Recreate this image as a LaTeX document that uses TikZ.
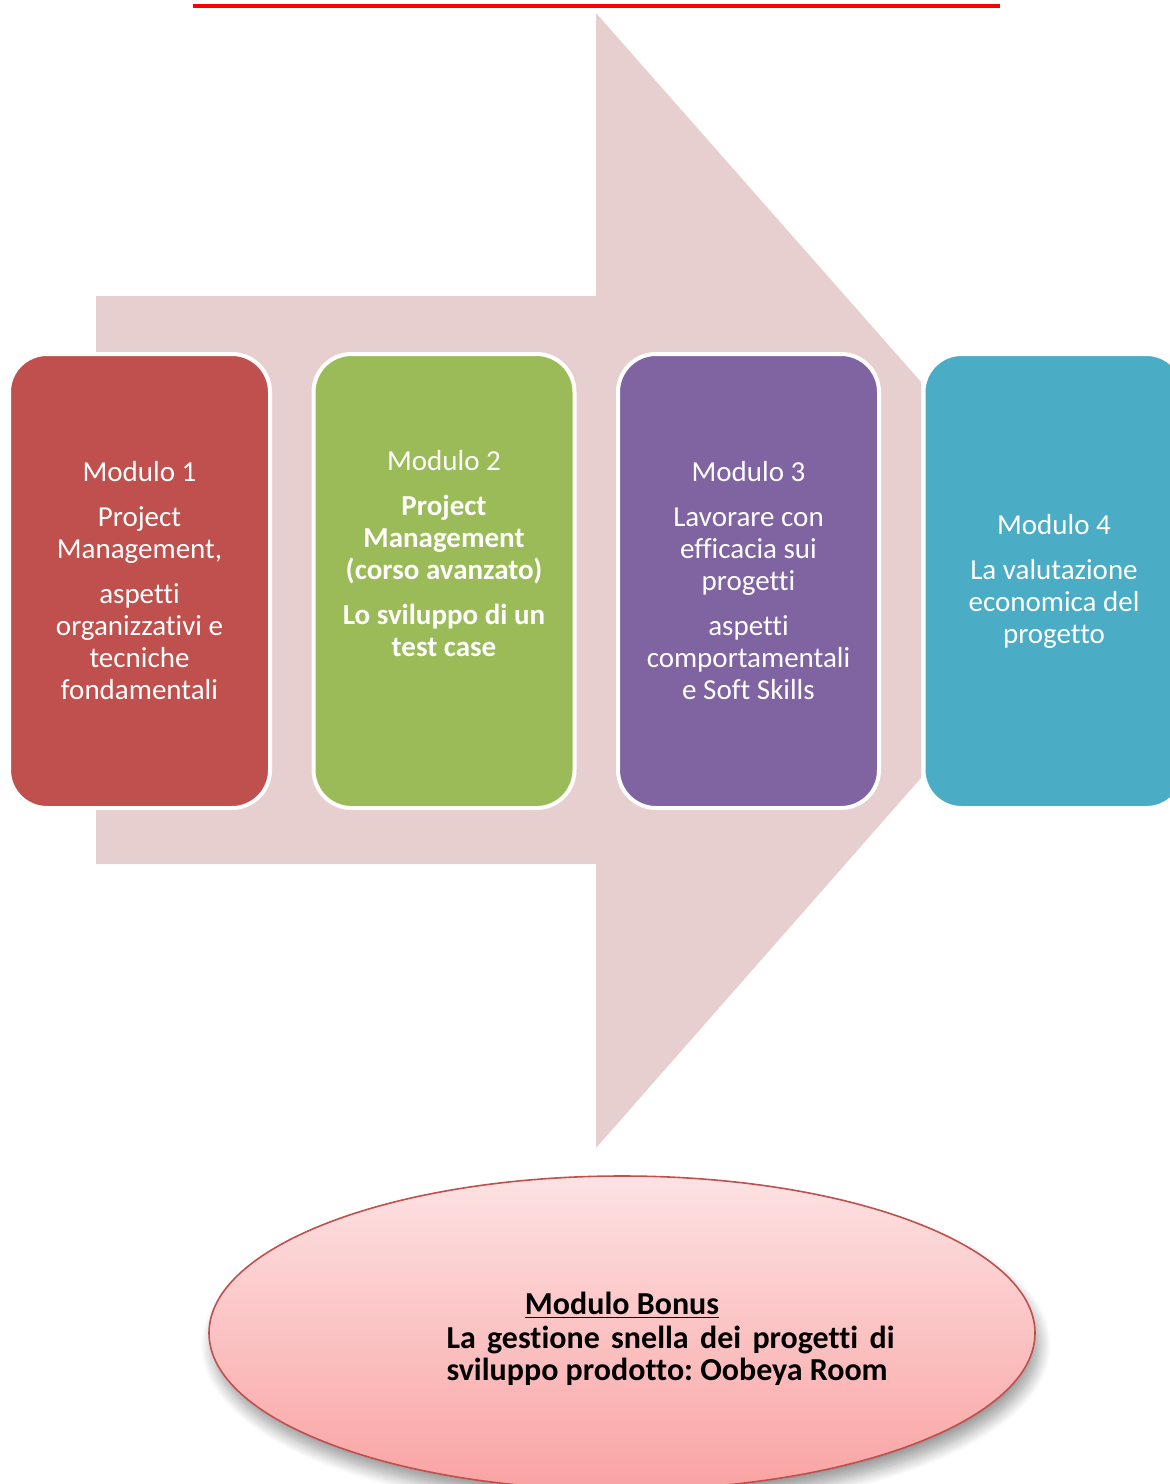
\documentclass[tikz,border=0pt]{standalone}
\usepackage{fontspec}
\setmainfont{Carlito}[Ligatures=NoCommon]
\usetikzlibrary{shapes.geometric,shadows.blur}
\frenchspacing
\definecolor{arrowpink}{RGB}{231,207,208}
\definecolor{modred}{RGB}{192,80,77}
\definecolor{modgreen}{RGB}{155,187,89}
\definecolor{modpurple}{RGB}{128,100,162}
\definecolor{modblue}{RGB}{75,172,198}
\definecolor{elltop}{RGB}{253,226,227}
\definecolor{ellbot}{RGB}{250,163,163}
\tikzset{
  modbox/.style={rectangle, rounded corners=19pt, draw=white, line width=2pt,
    minimum width=130.5pt, minimum height=227pt, inner sep=0pt, outer sep=0pt},
  modtext/.style={text=white, align=center, inner sep=0pt,
    font=\fontsize{14.5pt}{16pt}\selectfont},
}
\begin{document}
\begin{tikzpicture}[x=0.5pt,y=-0.5pt]
\useasboundingbox (0,0) rectangle (1170,1484);
\clip (0,0) rectangle (1170,1484);
% red line
\draw[red, line width=1.75pt] (193,5.8) -- (1000,5.8);
% big arrow
\fill[arrowpink] (96,296) -- (596,296) -- (596,13) -- (921,382) -- (921,778)
  -- (596,1148) -- (596,864) -- (96,864) -- cycle;
% boxes
\node[modbox, fill=modred] (b1) at (139.5,581) {};
\node[modbox, fill=modgreen] (b2) at (444,581) {};
\node[modbox, fill=modpurple] (b3) at (748.5,581) {};
\node[modbox, fill=modblue] (b4) at (1054,581) {};
% texts
\node[modtext] (t1) at ([yshift=0pt]b1.center) {Modulo 1\\[6.5pt]Project\\Management,\\[6.5pt]aspetti\\organizzativi e\\tecniche\\fondamentali};
\node[modtext] (t2) at ([yshift=13.5pt]b2.center) {Modulo 2\\[6.5pt]\textbf{Project}\\\textbf{Management}\\\textbf{(corso avanzato)}\\[6.5pt]\textbf{Lo sviluppo di un}\\\textbf{test case}};
\node[modtext] (t3) at ([yshift=0pt]b3.center) {Modulo 3\\[6.5pt]Lavorare con\\efficacia sui\\progetti\\[6.5pt]aspetti\\comportamentali\\e Soft Skills};
\node[modtext] (t4) at ([yshift=0pt]b4.center) {Modulo 4\\[6.5pt]La valutazione\\economica del\\progetto};
% bonus ellipse
\node[ellipse, draw=modred, line width=0.8pt, top color=elltop, bottom color=ellbot,
  minimum width=413pt, minimum height=157pt, inner sep=0pt,
  blur shadow={shadow xshift=2pt, shadow yshift=-6pt, shadow blur steps=14, shadow blur radius=6pt, shadow opacity=40}]
  (bonus) at (622,1333) {};
\node[inner sep=0pt, font=\fontsize{16pt}{16pt}\selectfont\bfseries] (bt) at (622,1305) {\underline{Modulo Bonus}};
\node[inner sep=0pt, text width=224pt, align=justify, font=\fontsize{16pt}{16pt}\selectfont\bfseries]
  (bd) at (670.5,1356) {La gestione snella dei progetti di\linebreak sviluppo prodotto: Oobeya Room};
\end{tikzpicture}
\end{document}
